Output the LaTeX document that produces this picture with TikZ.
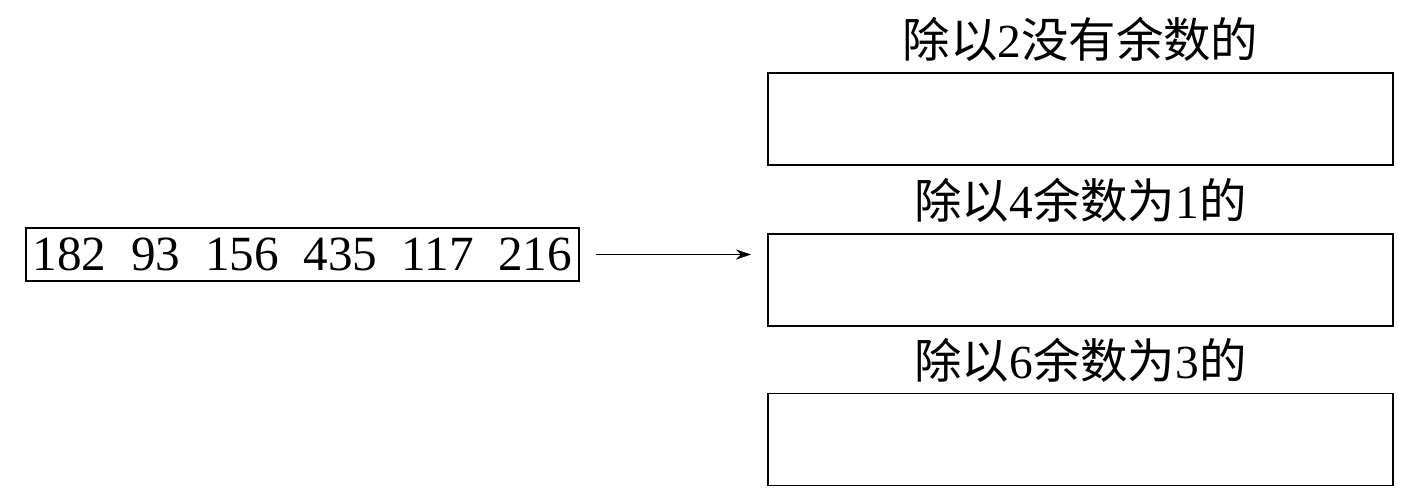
\documentclass[tikz,border=0pt]{standalone}
\usepackage{fontspec}
\setmainfont{Liberation Serif}
\newfontfamily\cjk{Noto Sans CJK SC}
\usepackage{tikz}
\usetikzlibrary{arrows.meta,positioning}
\newcommand{\zh}[1]{{\cjk #1}}
\newcommand{\gap}{\hspace{0.5em}}
\tikzset{
  numbox/.style={draw,line width=1.1pt,minimum width=11.06cm,minimum height=1.06cm,
    inner sep=0pt,font=\fontsize{28}{32}\selectfont},
  sortbox/.style={draw,line width=1.1pt,minimum width=12.5cm,minimum height=1.84cm,inner sep=0pt},
  heading/.style={inner sep=0pt,font=\fontsize{27}{30}\selectfont},
  fl/.style={-{Stealth[length=3mm,width=2mm]},line width=0.8pt,shorten <=0.33cm,shorten >=0.32cm},
}
\begin{document}
\begin{tikzpicture}
  \useasboundingbox (0,0) rectangle (28.32,10.02);
  \node[numbox] (nums) at (6.05,4.93) {182\gap93\gap156\gap435\gap117\gap216};
  \node[sortbox] (b1) at (21.61,7.64) {};
  \node[sortbox] (b2) at (21.61,4.42) {};
  \node[sortbox] (b3) at (21.61,1.23) {};
  \node[heading,above=0.2cm of b1] (t1) {\zh{除以}2\zh{没有余数的}};
  \node[heading,above=0.2cm of b2] (t2) {\zh{除以}4\zh{余数为}1\zh{的}};
  \node[heading,above=0.2cm of b3] (t3) {\zh{除以}6\zh{余数为}3\zh{的}};
  \draw[fl] (nums.east) -- (nums.east -| b2.west);
\end{tikzpicture}
\end{document}
